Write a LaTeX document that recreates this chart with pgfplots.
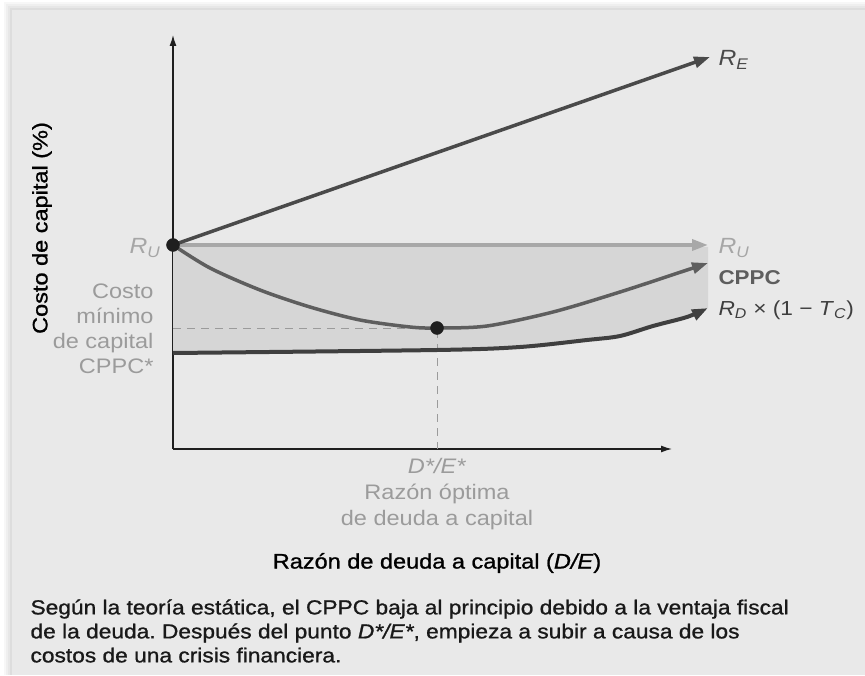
\documentclass[border=0pt]{standalone}
\usepackage{fontspec}
\setmainfont{Liberation Sans}[FakeStretch=1.12]
\newfontfamily\medfont{Liberation Sans}[FakeStretch=1.12, FakeBold=1.0]
\usepackage{pgfplots}
\pgfplotsset{compat=1.18}
\usepgfplotslibrary{fillbetween}
\usetikzlibrary{arrows.meta}

\definecolor{panel}{HTML}{E9E9E9}
\definecolor{bandgray}{HTML}{D6D6D6}
\definecolor{ruline}{HTML}{A8A8A8}
\definecolor{relabel}{HTML}{A6A6A6}
\definecolor{greytxt}{HTML}{9B9B9B}
\definecolor{cppc}{HTML}{5E5E5E}
\definecolor{rdline}{HTML}{3F3F3F}
\definecolor{reline}{HTML}{4A4A4A}

\newcommand{\sub}[2]{\textit{#1}\textsubscript{\textit{#2}}}
\frenchspacing

\begin{document}
\begin{tikzpicture}
% 1pt = 1px of the reference, data origin at the axis corner
\begin{axis}[
    x=1pt, y=1pt,
    xmin=0, xmax=499, ymin=0, ymax=414,
    enlargelimits=false,
    set layers,
    axis lines=left,
    axis line style={draw=black!88, line width=1.3pt, -{Latex[length=11pt,width=7pt]}},
    ticks=none,
    clip=false,
]
% page and panel with a soft shadow
\begin{pgfonlayer}{axis background}
\fill[white] (axis cs:-173,-226) rectangle (axis cs:692,449);
\fill[black, opacity=0.03] (axis cs:-169,-226) rectangle (axis cs:692,447);
\fill[black, opacity=0.03] (axis cs:-167,-226) rectangle (axis cs:692,445);
\fill[black, opacity=0.03] (axis cs:-165,-226) rectangle (axis cs:692,443);
\fill[black, opacity=0.04] (axis cs:-163,-226) rectangle (axis cs:692,441);
\fill[panel] (axis cs:-161,-226) rectangle (axis cs:692,439);
\end{pgfonlayer}

% shaded band between R_U and R_D(1-T_C)
\addplot[draw=none, smooth, name path=rd] coordinates {
    (0,96) (264,99) (347,102) (414,109) (447,113) (480,123) (514,132) (535,141)};
\addplot[draw=none, name path=top] coordinates {(0,202) (535,202)};
\addplot[fill=bandgray, draw=none, on layer=axis background] fill between[of=top and rd];

% R_U
\addplot[ruline, line width=3.5pt, -{Triangle[length=16pt,width=11pt]}]
    coordinates {(0,204) (535,204)};

% dashed guides to the minimum
\addplot[greytxt, line width=1pt, dash pattern=on 8pt off 6pt]
    coordinates {(0,121) (264,121) (264,0)};

% R_D x (1 - T_C)
\addplot[rdline, line width=4pt, smooth, -{Triangle[length=16pt,width=11pt]}]
    coordinates {(0,96) (264,99) (347,102) (414,109) (447,113) (480,123) (514,132) (535,141)};

% CPPC
\addplot[cppc, line width=3.5pt, smooth, -{Triangle[length=16pt,width=11pt]}]
    coordinates {(0,204) (37,181) (87,159) (137,142) (187,129) (237,122) (264,121)
    (314,123) (380,137) (447,157) (514,179) (535,186)};

% R_E
\addplot[reline, line width=3.5pt, -{Triangle[length=16pt,width=11pt]}]
    coordinates {(0,204) (537,392)};

% points
\addplot[only marks, mark=*, mark size=6.5pt, color=black!88] coordinates {(0,204) (264,121)};

% labels
\node[anchor=west, text=reline, font=\fontsize{22}{24}\selectfont] at (axis cs:542,389) {\sub{R}{E}};
\node[anchor=west, text=relabel, font=\fontsize{22}{24}\selectfont] at (axis cs:542,201) {\sub{R}{U}};
\node[anchor=west, text=cppc, font=\fontsize{20}{24}\selectfont\bfseries] at (axis cs:542,171) {CPPC};
\node[anchor=west, text=rdline, font=\fontsize{20.3}{24}\selectfont] at (axis cs:542,139) {\sub{R}{D} × (1 − \sub{T}{C})};
\node[anchor=east, text=relabel, font=\fontsize{22}{24}\selectfont] at (axis cs:-9,201) {\sub{R}{U}};
\node[anchor=east, align=right, text=greytxt, font=\fontsize{21}{25}\selectfont] at (axis cs:-16,120.5)
    {Costo\\mínimo\\de capital\\CPPC*};
\node[align=center, text=greytxt, font=\fontsize{21}{26}\selectfont] at (axis cs:264,-45)
    {\textit{D*/E*}\\Razón óptima\\de deuda a capital};
\node[text=black, font=\medfont\fontsize{21}{24}\selectfont] at (axis cs:264,-114)
    {Razón de deuda a capital (\textit{D/E})};
\node[rotate=90, text=black, font=\medfont\fontsize{21}{24}\selectfont] at (axis cs:-131,221)
    {Costo de capital (\%)};
\node[anchor=west, align=left, text=black!90, font=\medfont\fontsize{20.3}{24}\selectfont] at (axis cs:-146,-182)
    {Según la teoría estática, el CPPC baja al principio debido a la ventaja fiscal\\
     de la deuda. Después del punto \textit{D*/E*}, empieza a subir a causa de los\\
     costos de una crisis financiera.};
\end{axis}
\end{tikzpicture}
\end{document}
